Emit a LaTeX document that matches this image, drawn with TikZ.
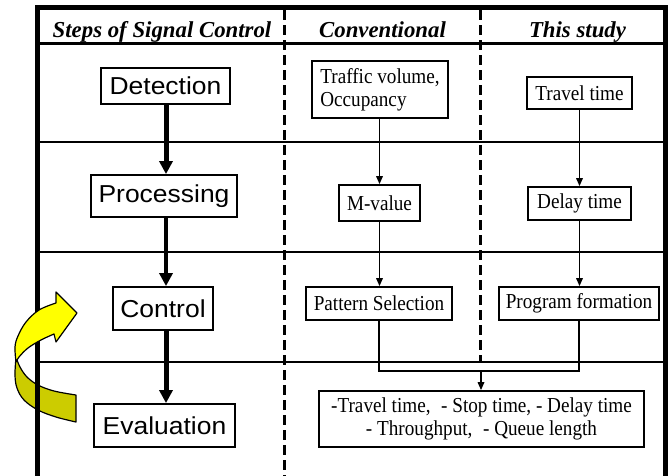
\documentclass[tikz,border=0pt]{standalone}
\usepackage{fontspec}
\setmainfont{Liberation Serif}
\newfontfamily\arialf[FakeStretch=1.08]{Liberation Sans}
\newfontfamily\condserif[FakeStretch=0.9]{Liberation Serif}
\usetikzlibrary{arrows.meta}
\definecolor{darkyel}{HTML}{CCCC00}
\definecolor{brightyel}{HTML}{FFFF00}
\begin{document}
\begin{tikzpicture}[x=1pt,y=-1pt,
  stepbox/.style={draw,line width=1.8pt,fill=white,inner sep=0pt,font=\arialf\fontsize{24.5}{30}\selectfont},
  valbox/.style={draw,line width=1.7pt,fill=white,inner sep=0pt,font=\condserif\fontsize{21.3}{23}\selectfont,align=center},
  hdr/.style={font=\bfseries\itshape\fontsize{22.8}{27}\selectfont,anchor=base},
  bigarrow/.style={line width=5pt,-{Triangle[width=13pt,length=13pt]}},
  midarrow/.style={line width=3.2pt,-{Triangle[width=13pt,length=13pt]}},
  thinarrow/.style={line width=1.6pt,-{Triangle[width=6.5pt,length=8pt]}},
  rowline/.style={line width=2pt},
  colline/.style={line width=3pt,dash pattern=on 10pt off 5pt},
  curvedge/.style={draw=black,line width=1.2pt,line join=round},
]
\useasboundingbox (0,0) rectangle (672,475);
\clip (0,0) rectangle (672,475);
% back (dark) part of the curved arrow
\filldraw[curvedge,fill=darkyel]
  plot[smooth,tension=0.6] coordinates {(16,357) (15,375) (17,388) (24,400) (38,410) (56,417) (76,422)}
  -- (76,395)
  -- plot[smooth,tension=0.6] coordinates {(76,395) (54,391) (38,385) (27,377) (20,367) (16,357)}
  -- cycle;
% frame
\draw[line width=5pt,line join=miter] (37.5,480) -- (37.5,7.5) -- (665.5,7.5) -- (665.5,480);
\draw[line width=3pt] (37.5,43.5) -- (665.5,43.5);
\draw[rowline] (37.5,141.5) -- (665.5,141.5);
\draw[rowline] (37.5,251.7) -- (665.5,251.7);
\draw[rowline] (37.5,362) -- (665.5,362);
\draw[colline] (284,10) -- (284,480);
\draw[colline] (480,10) -- (480,362);
% front (bright) part of the curved arrow
\filldraw[curvedge,fill=brightyel]
  (56,292) -- (77,313) -- (56,342) -- (54,334)
  -- plot[smooth,tension=0.6] coordinates {(54,334) (41,340) (28,348) (19,357) (16,362)}
  -- plot[smooth,tension=0.6] coordinates {(16,362) (15,347) (18,336) (26,322) (39,310) (56,303)}
  -- cycle;
% headers
\node[hdr] (h1) at (162,37) {Steps of Signal Control};
\node[hdr] (h2) at (382.5,37) {Conventional};
\node[hdr] (h3) at (577.5,37) {This study};
% step column
\node[stepbox,minimum width=129pt,minimum height=36pt] (det) at (165.5,86) {Detection};
\node[stepbox,minimum width=146pt,minimum height=42pt] (proc) at (164,196) {Processing};
\node[stepbox,minimum width=100pt,minimum height=43pt] (ctrl) at (163,308.5) {Control};
\node[stepbox,minimum width=141pt,minimum height=43pt] (eval) at (164.5,425.5) {Evaluation};
\coordinate (ax) at (166,0);
\draw[bigarrow] (det.south -| ax) -- (proc.north -| ax);
\draw[midarrow] (proc.south -| ax) -- (ctrl.north -| ax);
\draw[bigarrow] (ctrl.south -| ax) -- (eval.north -| ax);
% conventional column
\node[valbox,align=left,minimum width=136pt,minimum height=57pt] (tv) at (380,89.5) {Traffic volume,\\Occupancy};
\node[valbox,minimum width=81pt,minimum height=36pt] (mv) at (379.5,203) {M-value};
\node[valbox,minimum width=146pt,minimum height=33pt] (ps) at (379,303.5) {Pattern Selection};
% this study column
\node[valbox,minimum width=105pt,minimum height=32pt] (tt) at (579.5,93) {Travel time};
\node[valbox,minimum width=103pt,minimum height=33pt] (dt) at (579.5,203.5) {Delay time};
\node[valbox,minimum width=160pt,minimum height=33pt] (pf) at (579,303.5) {Program formation};
% evaluation list
\node[valbox,minimum width=325pt,minimum height=56pt] (ev) at (481.5,419)
  {-Travel time,\enspace - Stop time, - Delay time\\- Throughput,\enspace - Queue length};
\draw[thinarrow] (mv.north |- tv.south) -- (mv.north);
\draw[thinarrow] (mv.south) -- (mv.south |- ps.north);
\draw[thinarrow] (dt.north |- tt.south) -- (dt.north);
\draw[thinarrow] (dt.south) -- (dt.south |- pf.north);
\coordinate (mj) at (481,371);
\draw[line width=1.6pt,line join=miter] (ps.south) -- (ps.south |- mj) -- (pf.south |- mj) -- (pf.south);
\draw[thinarrow] (mj) -- (mj |- ev.north);
\end{tikzpicture}
\end{document}
